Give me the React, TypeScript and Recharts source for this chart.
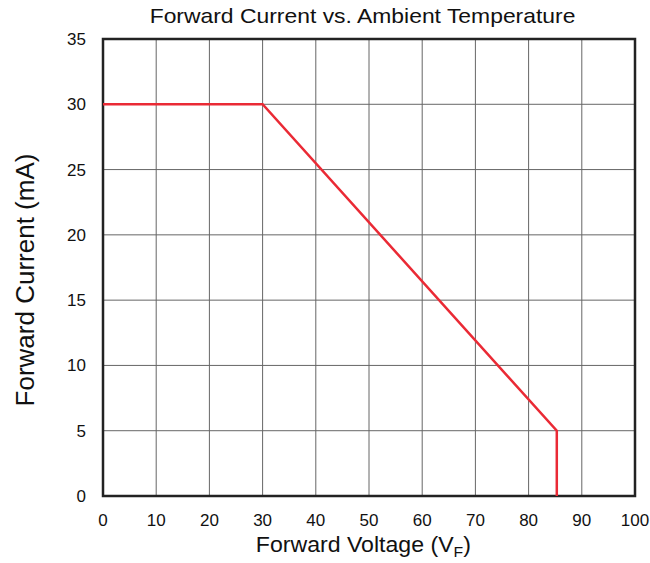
import { LineChart, Line, XAxis, YAxis, CartesianGrid, ReferenceArea } from 'recharts';

// ambient temperature (x) vs forward current (y)
const temps = [0, 30, 85.3, 85.3];
const currents = [30, 30, 5, 0];
const xTicks = [0, 10, 20, 30, 40, 50, 60, 70, 80, 90, 100];
const yTicks = [0, 5, 10, 15, 20, 25, 30, 35];

const data = temps.map((t, i) => ({ t, i: currents[i] }));

const font = '"Liberation Sans", Arial, sans-serif';

export default function App() {
  return (
    <div style={{ position: 'absolute', left: 0, top: 0, width: 650, height: 563, background: '#fff', fontFamily: font }}>
      <div style={{ position: 'absolute', left: 0, width: 725, top: 4, textAlign: 'center', fontSize: 21, color: '#111', transform: 'scaleX(1.09)', transformOrigin: '362px 0' }}>
        Forward Current vs. Ambient Temperature
      </div>
      <div
        style={{
          position: 'absolute',
          left: 25,
          top: 280,
          transform: 'translate(-50%, -50%) rotate(-90deg)',
          whiteSpace: 'nowrap',
          fontSize: 26,
          color: '#111',
        }}
      >
        Forward Current (mA)
      </div>
      <div style={{ position: 'absolute', left: 97, width: 532, top: 532, textAlign: 'center', fontSize: 22, color: '#111', transform: 'scaleX(1.05)', transformOrigin: '259px 0' }}>
        Forward Voltage (V<sub style={{ fontSize: 15 }}>F</sub>)
      </div>
      <LineChart width={650} height={563} data={data} margin={{ top: 39, right: 15, bottom: 37, left: 43 }}>
        <CartesianGrid stroke="#666" strokeWidth={1} horizontalValues={yTicks} verticalValues={xTicks} />
        <XAxis
          dataKey="t"
          type="number"
          domain={[0, 100]}
          ticks={xTicks}
          height={30}
          axisLine={false}
          tickLine={false}
          tickMargin={12}
          tick={{ fill: '#111', fontSize: 17, fontFamily: font }}
        />
        <YAxis
          type="number"
          domain={[0, 35]}
          ticks={yTicks}
          width={60}
          axisLine={false}
          tickLine={false}
          tickMargin={11}
          tick={{ fill: '#111', fontSize: 17, fontFamily: font }}
        />
        <ReferenceArea x1={0} x2={100} y1={0} y2={35} fill="none" stroke="#222" strokeWidth={2.5} fillOpacity={0} />
        <Line type="linear" dataKey="i" stroke="#ea2a35" strokeWidth={2.5} dot={false} isAnimationActive={false} />
      </LineChart>
    </div>
  );
}
